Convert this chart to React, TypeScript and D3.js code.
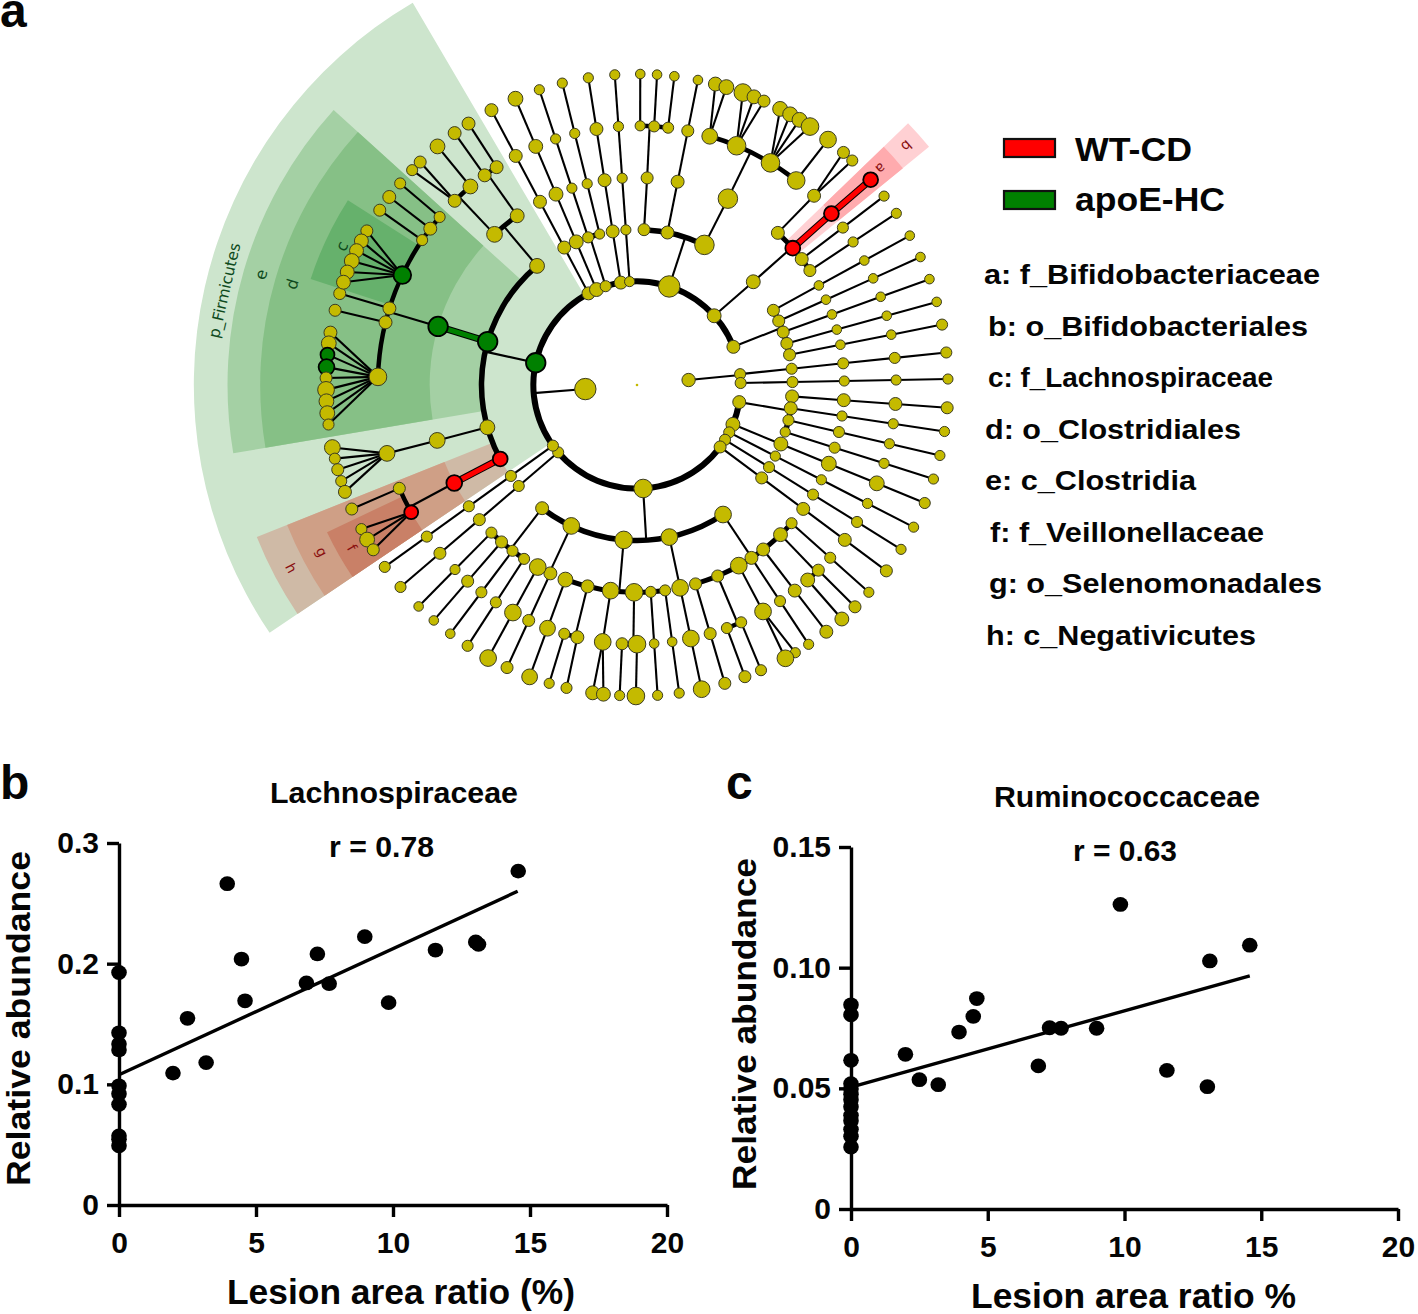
import React, { useEffect, useRef } from 'react';
import * as d3 from 'd3';

// taxon: bearing in degrees clockwise from north, abundance
type Taxon = { bearing: number; abundance: number; tone: string; kids: Taxon[] };

const n = (bearing: number, abundance: number, ...kids: Taxon[]): Taxon => ({ bearing, abundance, tone: 'none', kids });
const wtcd = (bearing: number, abundance: number, ...kids: Taxon[]): Taxon => ({ bearing, abundance, tone: 'wt', kids });
const apoe = (bearing: number, abundance: number, ...kids: Taxon[]): Taxon => ({ bearing, abundance, tone: 'apoe', kids });
// unbranched lineage, one abundance per level
const chain = (bearing: number, abundances: number[]): Taxon =>
  abundances.reduceRight<Taxon[]>((kids, a) => [n(bearing, a, ...kids)], [])[0];

const shortPhylum = n(84.5, 5.7,
  chain(84, [4.5, 4.5, 4.5, 4.5, 4.5]),
  chain(88.9, [4.5, 4.5, 4, 4, 4]));

const eastClades = [
  n(68.4, 5.5,
    chain(61.3, [5, 3.7, 3.7, 3.7]),
    chain(65.7, [5, 3.7, 3.7, 3.7]),
    chain(70.1, [5, 3.7, 3.7, 3.7]),
    chain(74.5, [5, 3.7, 3.7, 3.7]),
    chain(78.8, [5, 3.7, 3.7, 4.5])),
  n(99.5, 5.5,
    chain(94.2, [5.5, 5.5, 5.5, 5]),
    chain(98.6, [5.5, 4, 4, 4]),
    chain(103.1, [4.5, 4.5, 4, 4]),
    chain(107.6, [4, 4.5, 4, 4])),
  chain(112.3, [6, 6, 6.5, 6.5, 4.5]),
  chain(117.2, [4.5, 4, 4, 4, 4]),
  chain(121.9, [4.5, 4.5, 4.5, 4.5, 4]),
  chain(126.7, [5, 5, 5.5, 5.5, 5]),
];

const southClade = n(176.6, 8.5,
  n(146.4, 7.5,
    chain(131.8, [4.5, 4.5, 4]),
    n(136.2, 6, n(135.6, 5, n(135.5, 5)), n(138.8, 6, n(138.8, 6))),
    chain(142.5, [5.5, 5.5, 5.5]),
    chain(146.5, [5.5, 4.5, 4]),
    n(150.6, 7.5, n(150.9, 7.5, n(149.4, 4), n(151.5, 7.5))),
    n(157.1, 5, n(156.3, 4.5, n(156.5, 4.5)), n(159.7, 4.5, n(159.7, 5))),
    chain(163.6, [5, 5, 5])),
  chain(168, [7.5, 7.5, 7.5, 7.5]),
  n(184.9, 8,
    chain(172.2, [4.5, 3.7, 4]),
    chain(176.2, [4.5, 3.7, 4]),
    n(180.8, 8, n(183.3, 5, n(183.2, 4)), n(180, 8, n(180.2, 8))),
    n(187.3, 7.5, n(187.6, 7.5, n(188.2, 6), n(186.2, 6))),
    n(193.8, 5.5, n(193.3, 5.5, n(193.1, 4.5)), n(196.3, 4.5, n(196.4, 4))),
    chain(200.2, [6.5, 7, 7])),
  n(205, 7.5, chain(204.7, [5.5, 5, 5]), chain(208.6, [7.5, 7.5, 7.5])),
  n(217.6, 5.5,
    chain(213, [4.5, 4.5, 4.5]),
    chain(216.9, [4.5, 4.5, 3.7]),
    chain(220.8, [5, 5, 3.7]),
    chain(224.6, [4.5, 4, 3.7])));

const southWestChains = [
  chain(229.5, [4.5, 4.5, 5, 5, 4.5]),
  chain(234.2, [4.5, 4.5, 4.5, 4.5, 4.5]),
];

const negativicutes = wtcd(241.6, 6.5,
  wtcd(241.8, 7,
    wtcd(240.6, 6, n(242.4, 4.5), n(240.2, 6.5), n(238, 5)),
    n(246.5, 5, n(246.5, 5))));

const westSmallClass = n(254.2, 6.5,
  n(254.5, 7,
    n(254.7, 7, n(258.4, 7), n(256.3, 4.5), n(254.2, 5), n(252, 4.5), n(249.9, 5.5))));

const clostridia = apoe(286.2, 9,
  apoe(286.4, 9,
    n(271.8, 8,
      n(279.7, 5.5), n(277.7, 6.5), apoe(275.6, 6), apoe(273.3, 7), n(271.3, 5),
      n(269.1, 7.5), n(267, 6.5), n(264.8, 6.5), n(262.7, 4.5)),
    n(284, 5.5, n(283.9, 5)),
    n(287.2, 5.5, n(287.1, 5)),
    apoe(295.1, 8, n(299.7, 5), n(297.6, 6), n(295.6, 6), n(293.5, 6.5), n(291.3, 6), n(289.3, 6)),
    n(304, 4.5, n(304.2, 5)),
    n(307.1, 5.5, n(307.2, 5.5)),
    n(310.4, 4.5, n(310.4, 4.5))));

const northWestClass = n(320, 6.5,
  n(316.6, 7,
    n(315.3, 5.5, n(313.7, 4.5), n(315.8, 5)),
    n(320, 6.5, n(320.1, 6.5))),
  n(324.7, 6,
    n(324, 5.5, n(324.1, 5.5)),
    n(327.2, 5.5, n(327.2, 5.5))));

const firmicutes = apoe(282.4, 9, negativicutes, westSmallClass, clostridia, northWestClass);

const northClades = [
  chain(332.1, [5.5, 5.5, 5.5, 5.5, 5.5]),
  chain(337, [6, 6, 6, 6, 6.5]),
  n(342.4, 4.5, chain(341.7, [4.5, 4, 4, 4]), chain(346.1, [4, 4, 4, 4])),
  chain(351, [5.5, 5.5, 5.5, 5.5, 4]),
  chain(355.9, [4, 4, 4, 4, 4]),
];

const proteoClade = n(18.1, 10,
  n(2.6, 5,
    n(2.8, 5, n(0.7, 4, n(0.6, 3.7)), n(3.8, 4.5, n(3.7, 3.7)), n(6.9, 4.5, n(6.9, 3.7)))),
  chain(11.3, [5.5, 5.5, 5, 3.7]),
  n(25.7, 9,
    n(26, 9,
      n(16.3, 7, n(14.6, 6), n(16.7, 6.5)),
      n(22.6, 8.5, n(19.9, 8), n(22.1, 6), n(24.1, 5)),
      n(31, 8.5, n(27.4, 6.5), n(29.5, 6.5), n(31.5, 6.5), n(33.8, 8)),
      n(37.9, 8, n(37.9, 7.5)))));

const bifidoClade = n(48.1, 6,
  n(48.4, 6,
    n(42.8, 5.5, n(43.1, 5.5, n(41.6, 5), n(43.8, 4.5))),
    wtcd(48.7, 6.5, wtcd(48.6, 6.5, wtcd(48.7, 6.5))),
    chain(52.6, [5.5, 4.5, 4]),
    chain(56.5, [5, 4, 4])));

const mainPhylum = n(265.5, 10,
  ...eastClades, southClade, ...southWestChains, firmicutes, ...northClades, proteoClade, bifidoClade);

const cladogram = n(0, 1.2, mainPhylum, shortPhylum);

// shaded clades, bearings and level bands
const wedgeNames = ['p_Firmicutes', 'e', 'd', 'c', 'h', 'g', 'f', 'b', 'a'];
const wedgeFrom = [236, 260.4, 260.4, 288, 236, 236, 236, 46, 46];
const wedgeTo = [329.6, 312.2, 312.2, 302.6, 248.2, 248.2, 244.6, 50.8, 50.8];
const wedgeInner = [2, 3, 4, 5, 3, 4, 5, 4, 5];
const wedgeOuter = [8.55, 7.9, 7.27, 6.62, 7.9, 7.27, 6.62, 7.27, 6.62];
const wedgeLabelLevel = [8.16, 7.56, 6.93, 6.29, 7.55, 6.88, 6.33, 6.95, 6.29];
const wedgeLabelBearing = [282.9, 286.4, 286.3, 295.2, 242.1, 242.1, 240.3, 48.4, 48.4];
const wedgeFill = ['#cde5cd', '#a4d0a4', '#86c086', '#66b16c', '#cfbaa6', '#cf9f86', '#c98067', '#ffd0d3', '#ffabae'];

const legendGroups = ['WT-CD', 'apoE-HC'];
const taxonKey = [
  'a: f_Bifidobacteriaceae', 'b: o_Bifidobacteriales', 'c: f_Lachnospiraceae', 'd: o_Clostridiales',
  'e: c_Clostridia', 'f: f_Veillonellaceae', 'g: o_Selenomonadales', 'h: c_Negativicutes',
];

const lesionX = [0, 0, 0, 0, 0, 0, 0, 0, 0, 0, 1.97, 2.5, 3.18, 3.95, 4.47, 4.6, 6.84, 7.24, 7.67, 8.97, 9.84, 11.55, 13.02, 13.12, 14.57];
const lachnoY = [0.1927, 0.1427, 0.1334, 0.1285, 0.0988, 0.0922, 0.0834, 0.0573, 0.0544, 0.0491, 0.1093, 0.1547, 0.118, 0.2663, 0.2038, 0.1692, 0.184, 0.2081, 0.1834, 0.2224, 0.1677, 0.2113, 0.218, 0.216, 0.2767];
const lachnoFit = [[0, 0.108], [14.55, 0.26]];

const lesionXc = [0, 0, 0, 0, 0, 0, 0, 0, 0, 0, 0, 0, 0, 1.99, 2.5, 3.19, 3.95, 4.47, 4.6, 6.85, 7.26, 7.68, 8.98, 9.85, 11.55, 13.03, 13.12, 14.58];
const ruminoY = [0.0846, 0.0805, 0.0616, 0.0519, 0.0497, 0.0475, 0.0453, 0.0424, 0.0388, 0.0366, 0.033, 0.0301, 0.0257, 0.0641, 0.0536, 0.0515, 0.0733, 0.0798, 0.0872, 0.0593, 0.0751, 0.0749, 0.0749, 0.1262, 0.0574, 0.0507, 0.1028, 0.1093];
const ruminoFit = [[0, 0.0505], [14.58, 0.0966]];

const xTicks = [0, 5, 10, 15, 20];
const lachnoTicks = [0, 0.1, 0.2, 0.3];
const ruminoTicks = [0, 0.05, 0.1, 0.15];

const SANS = '"Liberation Sans", Arial, sans-serif';
const TONE: Record<string, string> = { none: '#c4ba00', wt: '#ff0000', apoe: '#008000' };

function addText(g: any, text: string, x: number, y: number, size: number, width?: number, rotate?: number) {
  const t = g.append('text')
    .attr('transform', `translate(${x},${y})${rotate ? ` rotate(${rotate})` : ''}`)
    .attr('font-family', SANS).attr('font-weight', 700).attr('font-size', size)
    .attr('fill', '#050505').text(text);
  if (width) t.attr('textLength', width).attr('lengthAdjust', 'spacingAndGlyphs');
  return t;
}

function drawCladogram(svg: any) {
  const g = svg.append('g').attr('transform', 'translate(637,385)');
  const rad = d3.scaleLinear().domain([0, 360]).range([0, 2 * Math.PI]);
  const level = d3.scaleLinear().domain([0, 6]).range([0, 311]);
  const circleR = d3.scaleLinear().domain([3.7, 10]).range([4.8, 10.7]);

  const wedge = d3.arc();
  wedgeNames.forEach((name, i) => {
    g.append('path').attr('fill', wedgeFill[i]).attr('d', wedge({
      innerRadius: level(wedgeInner[i]), outerRadius: level(wedgeOuter[i]),
      startAngle: rad(wedgeFrom[i]), endAngle: rad(wedgeTo[i]),
    } as any));
  });

  const root = d3.hierarchy(cladogram, d => d.kids);
  const at = (bearing: number, depth: number) => d3.pointRadial(rad(bearing), level(depth));
  const links = g.append('g');
  const straight = (a: [number, number], b: [number, number], color: string, width: number) =>
    links.append('line').attr('x1', a[0]).attr('y1', a[1]).attr('x2', b[0]).attr('y2', b[1])
      .attr('stroke', color).attr('stroke-width', width);

  const arcWidth = [0, 0, 6, 5.5, 5, 4.5, 4];
  root.descendants().forEach(node => {
    const kids = node.children;
    if (!kids || node.depth === 0) return;
    const from = at(node.data.bearing, node.depth);
    if (kids.length === 1) {
      const kid = kids[0];
      const to = at(kid.data.bearing, kid.depth);
      if (kid.data.tone !== 'none' && node.data.tone !== 'none') {
        straight(from, to, '#000', 7);
        straight(from, to, TONE[kid.data.tone], 5);
      } else {
        straight(from, to, '#000', 2.1);
      }
    } else if (node.depth === 5) {
      kids.forEach(kid => straight(from, at(kid.data.bearing, kid.depth), '#000', 2.1));
    } else {
      const depth = node.depth + 1;
      straight(from, at(node.data.bearing, depth), '#000', 2.1);
      // siblings sit on a thick arc, taken the short way round from the parent's bearing
      const unwrapped = kids.map(kid => {
        let a = kid.data.bearing;
        while (a < node.data.bearing - 180) a += 360;
        while (a > node.data.bearing + 180) a -= 360;
        return a;
      });
      const w = arcWidth[depth];
      links.append('path').attr('fill', '#000').attr('d', wedge({
        innerRadius: level(depth) - w / 2, outerRadius: level(depth) + w / 2,
        startAngle: rad(d3.min(unwrapped)!), endAngle: rad(d3.max(unwrapped)!),
      } as any));
    }
  });

  g.append('g').selectAll('circle').data(root.descendants()).join('circle')
    .attr('cx', (d: any) => at(d.data.bearing, d.depth)[0])
    .attr('cy', (d: any) => at(d.data.bearing, d.depth)[1])
    .attr('r', (d: any) => (d.depth === 0 ? 1.3 : circleR(d.data.abundance)))
    .attr('fill', (d: any) => TONE[d.data.tone])
    .attr('stroke', (d: any) => (d.data.tone === 'none' ? '#3c3c20' : '#000'))
    .attr('stroke-width', (d: any) => (d.depth === 0 ? 0 : d.data.tone === 'none' ? 1 : 1.8));

  wedgeNames.forEach((name, i) => {
    const [x, y] = at(wedgeLabelBearing[i], wedgeLabelLevel[i]);
    const onRed = i >= 4;
    const turn = i >= 7 ? wedgeLabelBearing[i] + 90 : i >= 4 ? wedgeLabelBearing[i] - 180 : wedgeLabelBearing[i] - 360;
    g.append('text')
      .attr('transform', `translate(${x},${y}) rotate(${turn})`)
      .attr('text-anchor', 'middle').attr('dominant-baseline', 'central')
      .attr('font-family', '"DejaVu Sans", sans-serif')
      .attr('font-size', i === 0 ? 15.5 : onRed ? 14 : 16)
      .attr('fill', onRed ? '#8a0f0f' : '#0e4a1c')
      .text(name);
  });
}

function drawLegend(svg: any) {
  const swatch = ['#ff0000', '#008000'];
  const swatchTop = [139, 191];
  const baseline = [161, 211];
  const widths = [117, 150];
  legendGroups.forEach((name, i) => {
    svg.append('rect').attr('x', 1004).attr('y', swatchTop[i]).attr('width', 51).attr('height', 18)
      .attr('fill', swatch[i]).attr('stroke', '#111').attr('stroke-width', 2.2);
    addText(svg, name, 1075, baseline[i], 33, widths[i]);
  });
  const lineX = [984, 988, 988, 985, 985, 990, 989, 986];
  const lineW = [336, 320, 285, 256, 211, 274, 333, 270];
  taxonKey.forEach((name, i) => addText(svg, name, lineX[i], 284 + i * 51.5, 28, lineW[i]));
}

type Panel = {
  letter: string; letterX: number; letterY: number;
  xs: number[]; ys: number[]; fit: number[][]; yTicks: number[]; yMax: number; fmt: string;
  left: number; right: number; bottom: number; top: number;
  title: string; titleX: number; titleY: number; titleW: number;
  rText: string; rX: number; rY: number; rW: number;
  xLabel: string; xLabelX: number; xLabelY: number; xLabelW: number;
  yLabelX: number; yLabelY: number; yLabelW: number;
};

function drawPanel(svg: any, p: Panel) {
  const x = d3.scaleLinear().domain([0, 20]).range([p.left, p.right]);
  const y = d3.scaleLinear().domain([0, p.yMax]).range([p.bottom, p.top]);
  const fmtY = (v: any) => (v === 0 ? '0' : d3.format(p.fmt)(v));

  const xAxis = svg.append('g').attr('transform', `translate(0,${p.bottom})`)
    .call(d3.axisBottom(x).tickValues(xTicks).tickFormat(d3.format('d') as any).tickSize(12).tickSizeOuter(0).tickPadding(15));
  const yAxis = svg.append('g').attr('transform', `translate(${p.left},0)`)
    .call(d3.axisLeft(y).tickValues(p.yTicks).tickFormat(fmtY).tickSize(12).tickSizeOuter(0).tickPadding(8));
  [xAxis, yAxis].forEach(axis => {
    axis.selectAll('path,line').attr('stroke', '#000').attr('stroke-width', 3.4);
    axis.selectAll('text').attr('font-family', SANS).attr('font-weight', 700).attr('font-size', 30).attr('fill', '#050505');
  });

  const fitLine = d3.line().x((d: any) => x(d[0])).y((d: any) => y(d[1]));
  svg.append('path').attr('d', fitLine(p.fit as any)).attr('fill', 'none').attr('stroke', '#000').attr('stroke-width', 3.4);

  svg.append('g').selectAll('ellipse').data(p.xs).join('ellipse')
    .attr('cx', (d: number) => x(d))
    .attr('cy', (_: number, i: number) => y(p.ys[i]))
    .attr('rx', 7.8).attr('ry', 7.4).attr('fill', '#000');

  addText(svg, p.letter, p.letterX, p.letterY, 48);
  addText(svg, p.title, p.titleX, p.titleY, 29, p.titleW);
  addText(svg, p.rText, p.rX, p.rY, 30, p.rW);
  addText(svg, p.xLabel, p.xLabelX, p.xLabelY, 35, p.xLabelW);
  addText(svg, 'Relative abundance', p.yLabelX, p.yLabelY, 33, p.yLabelW, -90);
}

export default function App() {
  const ref = useRef<SVGSVGElement>(null);

  useEffect(() => {
    const svg = d3.select(ref.current);
    svg.selectAll('*').remove();
    addText(svg, 'a', 0, 27, 48);
    drawCladogram(svg);
    drawLegend(svg);
    drawPanel(svg, {
      letter: 'b', letterX: 0, letterY: 799,
      xs: lesionX, ys: lachnoY, fit: lachnoFit, yTicks: lachnoTicks, yMax: 0.3, fmt: '.1f',
      left: 119, right: 667, bottom: 1205, top: 843,
      title: 'Lachnospiraceae', titleX: 270, titleY: 803, titleW: 248,
      rText: 'r = 0.78', rX: 329, rY: 857, rW: 105,
      xLabel: 'Lesion area ratio (%)', xLabelX: 227, xLabelY: 1304, xLabelW: 348,
      yLabelX: 30, yLabelY: 1186, yLabelW: 335,
    });
    drawPanel(svg, {
      letter: 'c', letterX: 726, letterY: 799,
      xs: lesionXc, ys: ruminoY, fit: ruminoFit, yTicks: ruminoTicks, yMax: 0.15, fmt: '.2f',
      left: 851, right: 1398, bottom: 1209, top: 847,
      title: 'Ruminococcaceae', titleX: 994, titleY: 807, titleW: 266,
      rText: 'r = 0.63', rX: 1073, rY: 861, rW: 104,
      xLabel: 'Lesion area ratio %', xLabelX: 971, xLabelY: 1308, xLabelW: 325,
      yLabelX: 756, yLabelY: 1190, yLabelW: 332,
    });
  }, []);

  return (
    <svg ref={ref} width={1418} height={1314} viewBox="0 0 1418 1314"
      style={{ position: 'absolute', left: 0, top: 0, display: 'block', background: '#fff' }} />
  );
}
